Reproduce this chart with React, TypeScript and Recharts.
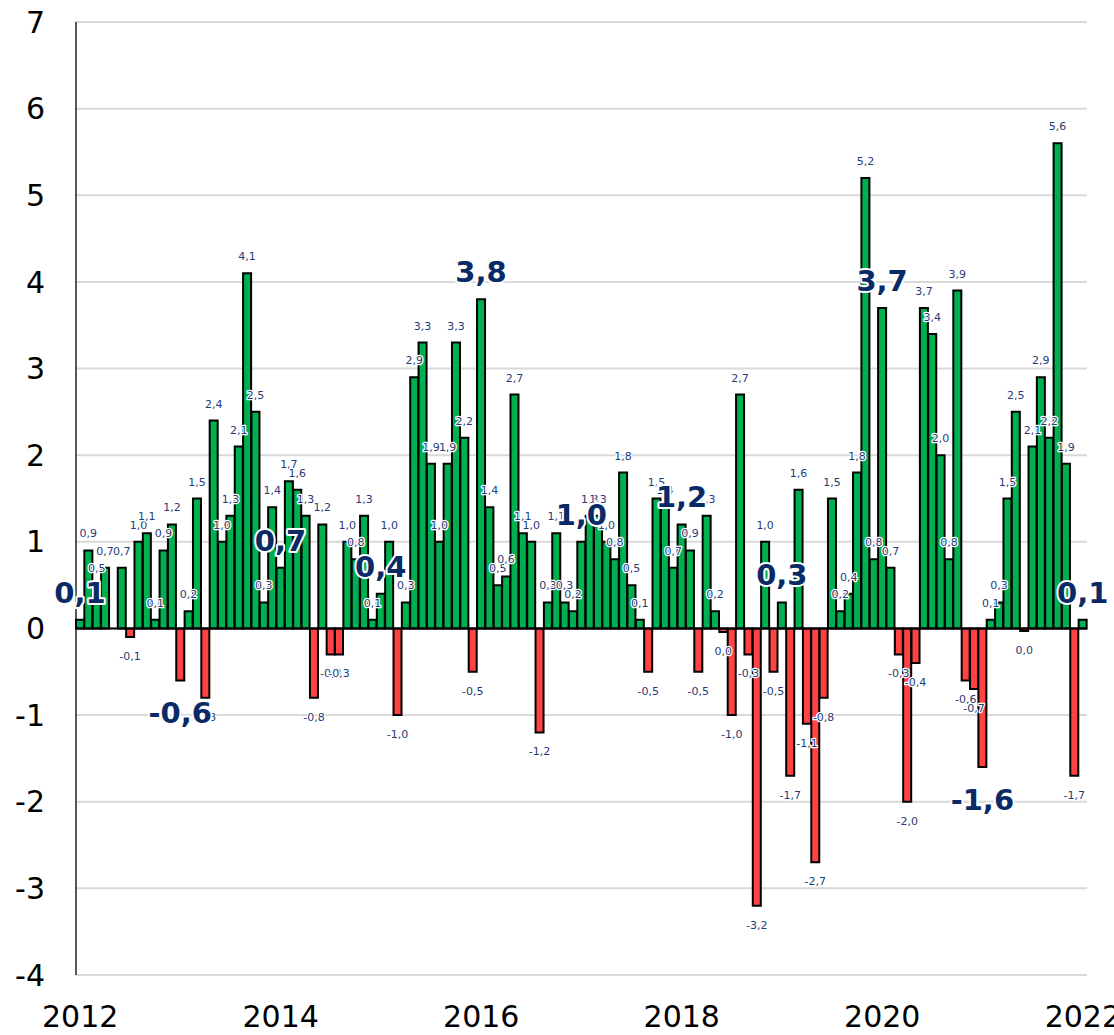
import { BarChart, Bar, XAxis, YAxis, CartesianGrid, Cell, LabelList, ReferenceLine } from 'recharts';

// monthly values, Jan..Dec
const years = [2012, 2013, 2014, 2015, 2016, 2017, 2018, 2019, 2020, 2021, 2022];
const v2012 = [0.1, 0.9, 0.5, 0.7, 0.0, 0.7, -0.1, 1.0, 1.1, 0.1, 0.9, 1.2];
const v2013 = [-0.6, 0.2, 1.5, -0.8, 2.4, 1.0, 1.3, 2.1, 4.1, 2.5, 0.3, 1.4];
const v2014 = [0.7, 1.7, 1.6, 1.3, -0.8, 1.2, -0.3, -0.3, 1.0, 0.8, 1.3, 0.1];
const v2015 = [0.4, 1.0, -1.0, 0.3, 2.9, 3.3, 1.9, 1.0, 1.9, 3.3, 2.2, -0.5];
const v2016 = [3.8, 1.4, 0.5, 0.6, 2.7, 1.1, 1.0, -1.2, 0.3, 1.1, 0.3, 0.2];
const v2017 = [1.0, 1.3, 1.3, 1.0, 0.8, 1.8, 0.5, 0.1, -0.5, 1.5, 1.4, 0.7];
const v2018 = [1.2, 0.9, -0.5, 1.3, 0.2, -0.04, -1.0, 2.7, -0.3, -3.2, 1.0, -0.5];
const v2019 = [0.3, -1.7, 1.6, -1.1, -2.7, -0.8, 1.5, 0.2, 0.4, 1.8, 5.2, 0.8];
const v2020 = [3.7, 0.7, -0.3, -2.0, -0.4, 3.7, 3.4, 2.0, 0.8, 3.9, -0.6, -0.7];
const v2021 = [-1.6, 0.1, 0.3, 1.5, 2.5, -0.03, 2.1, 2.9, 2.2, 5.6, 1.9, -1.7];
const v2022 = [0.1];
const byYear = [v2012, v2013, v2014, v2015, v2016, v2017, v2018, v2019, v2020, v2021, v2022];

const yTicks = [-4, -3, -2, -1, 0, 1, 2, 3, 4, 5, 6, 7];

const GREEN = '#00b050';
const RED = '#ff4343';

const data = byYear.flatMap((vals, yi) =>
  vals.map((v, mi) => ({
    m: `${years[yi]}-${String(mi + 1).padStart(2, '0')}`,
    v,
    small: mi === 0 ? null : v,
    big: mi === 0 ? v : null,
  }))
);

const fmt = (v: number) => (Math.abs(v) < 0.05 ? '0.0' : v.toFixed(1)).replace('.', ',');

function geom(props: any) {
  const vb = props.viewBox && props.viewBox.width != null ? props.viewBox : props;
  const x = Number(vb.x), y = Number(vb.y), w = Number(vb.width), h = Number(vb.height);
  return { cx: x + w / 2, top: Math.min(y, y + h), bottom: Math.max(y, y + h) };
}

const SmallLabel = (props: any) => {
  const { value } = props;
  if (value == null) return null;
  const { cx, top, bottom } = geom(props);
  const ty = value >= 0 ? top - 13 : bottom + 23;
  return (
    <text x={cx} y={ty} textAnchor="middle" fontSize={11} fill="#1f3c78"
      stroke="#fff" strokeWidth={2.5} strokeLinejoin="round" paintOrder="stroke">
      {fmt(value)}
    </text>
  );
};

const BigLabel = (props: any) => {
  const { value } = props;
  if (value == null) return null;
  const { cx, top, bottom } = geom(props);
  const ty = value >= 0 ? top - 17 : bottom + 43;
  return (
    <text x={cx} y={ty} textAnchor="middle" fontSize={29} fontWeight="bold" fill="#0a2a66"
      stroke="#fff" strokeWidth={4} strokeLinejoin="round" paintOrder="stroke">
      {fmt(value)}
    </text>
  );
};

export default function App() {
  return (
    <div style={{ position: 'absolute', left: 0, top: 0, fontFamily: '"DejaVu Sans", Verdana, sans-serif' }}>
      <BarChart width={1114} height={1035} data={data} barCategoryGap={0} barGap={0}
        margin={{ top: 22, right: 27, left: 0, bottom: 0 }}>
        <CartesianGrid vertical={false} stroke="#d9d9d9" strokeWidth={2} />
        <XAxis dataKey="m" interval={23} tickFormatter={(m: string) => m.slice(0, 4)}
          axisLine={false} tickLine={false} tickSize={0} tickMargin={31} height={60}
          tick={{ fontSize: 30, fill: '#000' }} />
        <YAxis type="number" domain={[-4, 7]} ticks={yTicks} width={76}
          axisLine={{ stroke: '#000', strokeWidth: 1.3 }} tickLine={false} tickSize={0} tickMargin={31}
          tick={{ fontSize: 30, fill: '#000' }} />
        <ReferenceLine y={0} stroke="#000" strokeWidth={2} />
        <Bar dataKey="v" isAnimationActive={false} stroke="#000" strokeWidth={2}>
          {data.map((d, i) => (
            <Cell key={i} fill={d.v < 0 ? RED : GREEN} />
          ))}
          <LabelList dataKey="small" content={SmallLabel} />
          <LabelList dataKey="big" content={BigLabel} />
        </Bar>
      </BarChart>
    </div>
  );
}
